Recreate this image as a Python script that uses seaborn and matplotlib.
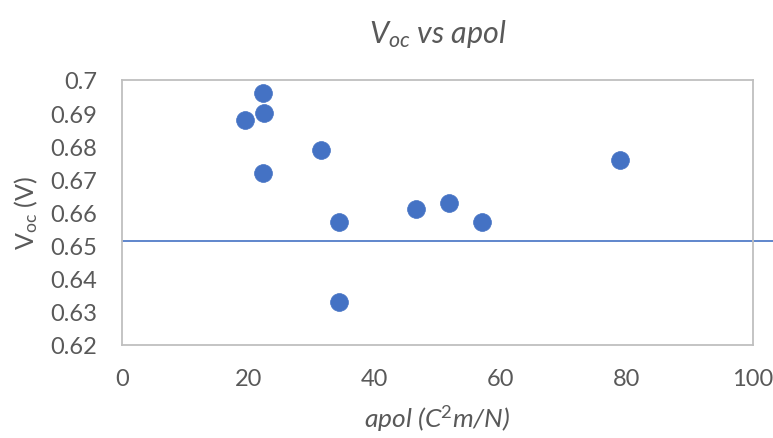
import numpy as np
import pandas as pd
import matplotlib
matplotlib.use("Agg")
import matplotlib.pyplot as plt
import seaborn as sns
from matplotlib.ticker import MultipleLocator

# Data
apol = [19.5, 22.4, 22.5, 22.4, 31.5, 34.4, 34.4, 46.6, 51.8, 57.0, 78.9]
voc = [0.688, 0.696, 0.690, 0.672, 0.679, 0.657, 0.633, 0.661, 0.663, 0.657, 0.676]
ref_line = 0.6515
x_ticks = [0, 20, 40, 60, 80, 100]
y_ticks = [0.62, 0.63, 0.64, 0.65, 0.66, 0.67, 0.68, 0.69, 0.70]
y_tick_labels = ["0.62", "0.63", "0.64", "0.65", "0.66", "0.67", "0.68", "0.69", "0.7"]

df = pd.DataFrame({"apol": apol, "voc": voc})

sns.set_style("white")
plt.rcParams["font.family"] = ["Lato", "DejaVu Sans"]
plt.rcParams["mathtext.fontset"] = "custom"
plt.rcParams["mathtext.rm"] = "Lato"
plt.rcParams["mathtext.it"] = "Lato:italic"
plt.rcParams["mathtext.bf"] = "Lato:bold"
plt.rcParams["mathtext.sf"] = "Lato"
plt.rcParams["mathtext.default"] = "it"

TEXT = "#595959"
AXC = "#bfbfbf"
BLUE = "#4472c4"

fig = plt.figure(figsize=(7.73, 4.39), dpi=100)
ax = fig.add_axes([122 / 773, 1 - 346 / 439, (753 - 122) / 773, (346 - 81) / 439])

sns.scatterplot(data=df, x="apol", y="voc", ax=ax, s=165, color=BLUE,
                edgecolor=BLUE, linewidth=0.5, zorder=3, clip_on=False)

ax.set_xlim(0, 100)
ax.set_ylim(0.62, 0.70)
ax.set_xticks(x_ticks)
ax.set_xticklabels([str(v) for v in x_ticks])
ax.set_yticks(y_ticks)
ax.set_yticklabels(y_tick_labels)
ax.xaxis.set_minor_locator(MultipleLocator(4))
ax.yaxis.set_minor_locator(MultipleLocator(0.002))

for s in ax.spines.values():
    s.set_visible(True)
    s.set_color(AXC)
    s.set_linewidth(1.3)

ax.tick_params(axis="both", which="major", direction="inout", length=11,
               width=1.1, color=AXC, labelcolor=TEXT, labelsize=17)
ax.tick_params(axis="x", which="major", pad=11)
ax.tick_params(axis="y", which="major", pad=12.5)
ax.tick_params(axis="both", which="minor", direction="in", length=5,
               width=1.1, color=AXC)

# horizontal reference line extending past the plot area to the figure edge
ax.axhline(ref_line, xmin=0, xmax=(773 - 122) / (753 - 122), color=BLUE,
           linewidth=1.2, clip_on=False, zorder=2)

ax.set_xlabel("apol (C$^{2}$m/N)", fontsize=19, color=TEXT, style="italic",
              labelpad=9)
ax.set_ylabel(r"$\mathrm{V_{oc}}$ (V)", fontsize=18, color=TEXT, labelpad=7)
ax.set_title(r"$V_{oc}$ vs apol", fontsize=22, color=TEXT, style="italic",
             pad=27)

fig.savefig("out.png", dpi=100)
